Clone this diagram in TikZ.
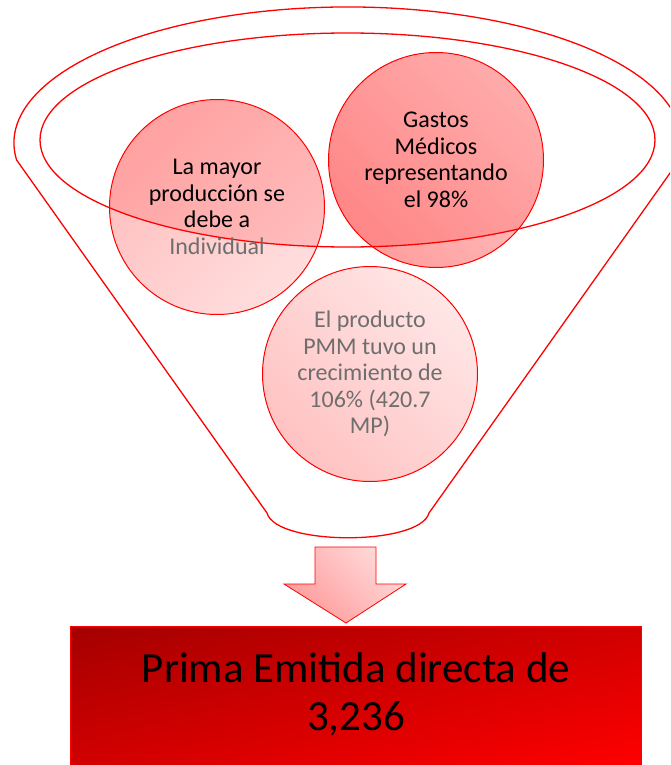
\documentclass[tikz,border=0pt]{standalone}
\usepackage{fontspec}
\setmainfont{Carlito}
\definecolor{fred}{HTML}{FF0000}
\definecolor{txtgray}{HTML}{6E6E6E}
\definecolor{cAdark}{HTML}{FFBCBC}
\definecolor{cAlight}{HTML}{FFDEDE}
\definecolor{cBdark}{HTML}{FF9E9E}
\definecolor{cBlight}{HTML}{FFCACA}
\definecolor{cCdark}{HTML}{FFC2C2}
\definecolor{cClight}{HTML}{FFE6E6}
\definecolor{arrlight}{HTML}{FFDADA}
\definecolor{arrdark}{HTML}{FF9A9A}
\definecolor{boxdark}{HTML}{A40000}
\definecolor{boxmid}{HTML}{E20000}
\definecolor{boxlight}{HTML}{FF0000}
\tikzset{
  funnelline/.style={draw=fred, line width=1.3pt},
  bubble/.style={circle, draw=fred, line width=1pt, minimum size=215pt, inner sep=0pt},
  btext/.style={align=center, font=\fontsize{24}{26.5}\selectfont, inner sep=0pt},
  blockarrow/.style={draw=fred, line width=0.8pt, top color=arrlight, bottom color=arrdark, shading angle=-45},
  resultbox/.style={minimum width=571pt, minimum height=150pt, anchor=north west, inner sep=0pt},
}
\begin{document}
\begin{tikzpicture}[x=1pt,y=1pt]
\useasboundingbox (0,0) rectangle (670,-765);
\clip (0,0) rectangle (670,-765);

% funnel body
\draw[funnelline, fill=white] (16.6,-160) arc[start angle=187.2, end angle=-7.2, x radius=334, y radius=136]
  -- (429,-513) .. controls (420,-546) and (276,-546) .. (267,-513) -- cycle;

% bubbles
\node[bubble, top color=cAdark, bottom color=cAlight, shading angle=45] (c1) at (217,-207) {};
\node[bubble, top color=cBlight, bottom color=cBdark, shading angle=-45] (c2) at (436,-160) {};
\node[bubble, top color=cClight, bottom color=cCdark, shading angle=-45] (c3) at (370,-374) {};

% darker part inside the funnel mouth
\begin{scope}
  \clip (347.5,-140) ellipse[x radius=307.5, y radius=107];
  \fill[fred, opacity=0.14] (c1.center) circle[radius=107];
  \fill[fred, opacity=0.15] (c2.center) circle[radius=107];
\end{scope}

% inner rim
\draw[funnelline] (347.5,-140) ellipse[x radius=307.5, y radius=107];

% bubble texts
\node[btext] (t1) at (c1) {La mayor\\producción se\\debe a\\\textcolor{txtgray}{Individual}};
\node[btext] (t2) at (c2) {Gastos\\Médicos\\representando\\el 98\%};
\node[btext, text=txtgray] (t3) at (c3) {El producto\\PMM tuvo un\\crecimiento de\\106\% (420.7\\MP)};

% block arrow
\path[blockarrow] (315,-547) -- (376,-547) -- (376,-584) -- (406,-584) -- (346,-623) -- (284,-584) -- (315,-584) -- cycle;

% result box
\node[resultbox, fill=boxmid] (box) at (70,-626) {};
\begin{scope}
  \clip (box.north west) rectangle (box.south east);
  \begin{scope}[transform canvas={rotate around={13.8:(70,-626)}}]
    \shade[top color=boxdark, middle color=boxmid, bottom color=boxlight] (0,-626) rectangle (700,-898);
  \end{scope}
\end{scope}
\draw[fred, line width=0.8pt] (box.north west) rectangle (box.south east);
\node[font=\fontsize{43}{48}\selectfont, align=center, inner sep=0pt] (ptext) at (356,-694) {Prima Emitida directa de\\3,236};
\end{tikzpicture}
\end{document}
